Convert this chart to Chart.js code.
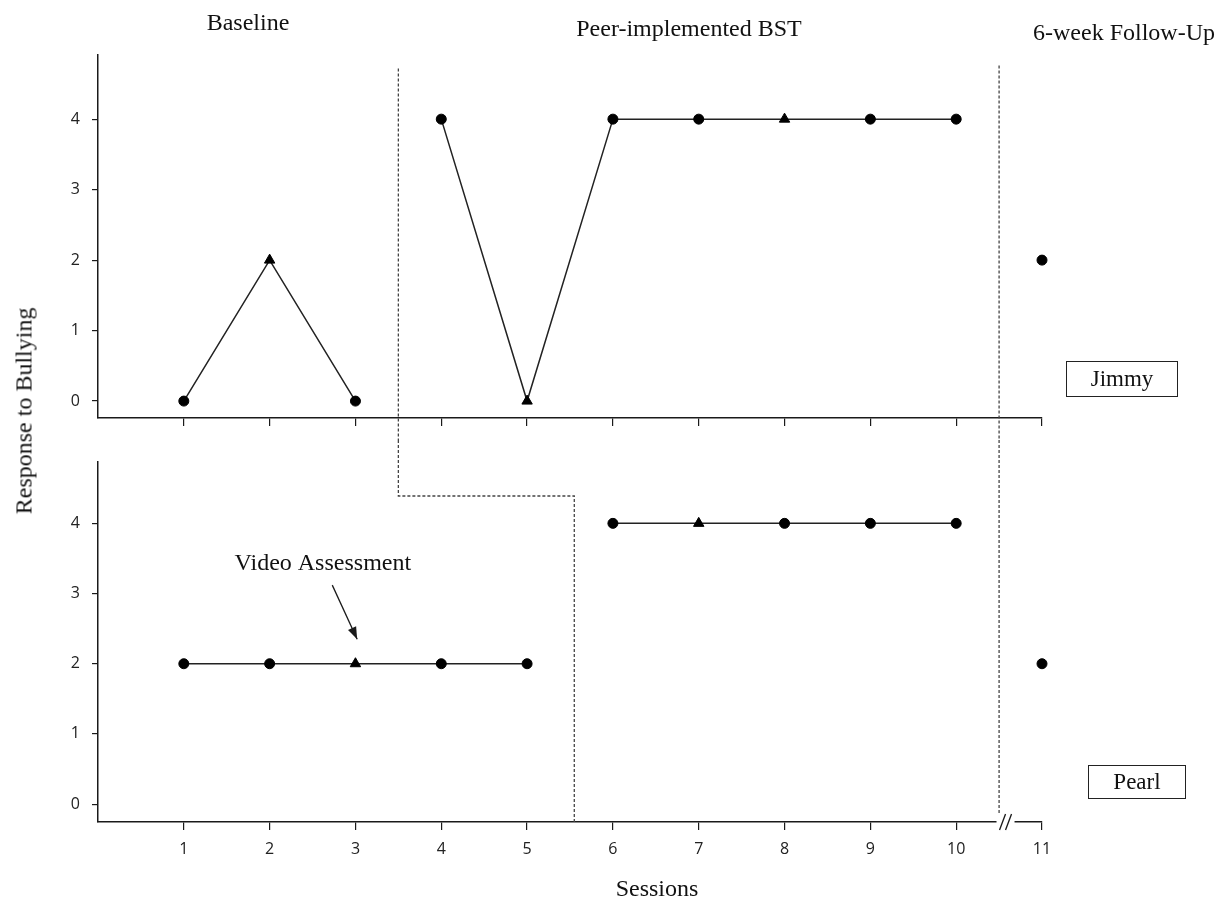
<!DOCTYPE html>
<html>
<head>
<meta charset="utf-8">
<script src="https://cdn.jsdelivr.net/npm/chart.js@4.4.1/dist/chart.umd.min.js"></script>
<style>
  body { margin: 0; background: #fff; }
  .page { position: relative; width: 1232px; height: 903px; }
  .panel { position: absolute; left: 0; width: 1232px; }
  .top_panel { top: 0; height: 440px; }
  .bottom_panel { top: 440px; height: 463px; }
  .label {
    position: absolute;
    font-family: "Liberation Serif", "Times New Roman", serif;
    font-size: 24px;
    color: #111;
    white-space: nowrap;
    transform: translate(-50%, -50%);
  }
  .name_box {
    position: absolute;
    border: 1.5px solid #222;
    font-family: "Liberation Serif", "Times New Roman", serif;
    font-size: 23px;
    color: #111;
    display: flex;
    align-items: center;
    justify-content: center;
    box-sizing: border-box;
  }
  .y_title {
    position: absolute;
    left: 24px;
    top: 411px;
    font-family: "Liberation Serif", "Times New Roman", serif;
    font-size: 24px;
    color: #111;
    white-space: nowrap;
    transform: translate(-50%, -50%) rotate(-90deg);
  }
</style>
</head>
<body>
<div class="page">
  <div class="panel top_panel"><canvas id="jimmy_chart" width="1232" height="440"></canvas></div>
  <div class="panel bottom_panel"><canvas id="pearl_chart" width="1232" height="463"></canvas></div>

  <div class="label" style="left:248px; top:22px;">Baseline</div>
  <div class="label" style="left:689px; top:28px;">Peer-implemented BST</div>
  <div class="label" style="left:1124px; top:32px;">6-week Follow-Up</div>
  <div class="label" style="left:657px; top:888px;">Sessions</div>
  <div class="y_title">Response to Bullying</div>
  <div class="name_box" style="left:1066px; top:361px; width:112px; height:36px;">Jimmy</div>
  <div class="name_box" style="left:1088px; top:765px; width:98px; height:34px;">Pearl</div>
</div>

<script>
const sessions = [1, 2, 3, 4, 5, 6, 7, 8, 9, 10, 11];
const jimmyScores = [0, 2, 0, 4, 0, 4, 4, 4, 4, 4, 2];
const jimmyMarkers = ["circle", "triangle", "circle", "circle", "triangle", "circle", "circle", "triangle", "circle", "circle", "circle"];
const pearlScores = [2, 2, 2, 2, 2, 4, 4, 4, 4, 4, 2];
const pearlMarkers = ["circle", "circle", "triangle", "circle", "circle", "circle", "triangle", "circle", "circle", "circle", "circle"];
const yTicks = [0, 1, 2, 3, 4];

// last session of each phase
const jimmyLastBaseline = 3;
const pearlLastBaseline = 5;
const lastIntervention = 10;

// phase change lines (session units)
const jimmyPhaseLine = 3.5;
const pearlPhaseLine = 5.55;
const followUpLine = 10.5;

const INK = "#1a1a1a";
const tickFont = { family: "'Open Sans', 'Liberation Sans', sans-serif", size: 16 };

const phaseData = (scores, markers, from, to) => {
  const points = [];
  const styles = [];
  sessions.forEach((s, i) => {
    if (s >= from && s <= to) {
      points.push({ x: s, y: scores[i] });
      styles.push(markers[i]);
    }
  });
  return { points, styles };
};

const buildDatasets = (scores, markers, lastBaseline) => {
  const phases = [
    [1, lastBaseline, true],
    [lastBaseline + 1, lastIntervention, true],
    [lastIntervention + 1, 11, false],
  ];
  return phases.map(([from, to, joined]) => {
    const d = phaseData(scores, markers, from, to);
    return {
      data: d.points,
      pointStyle: d.styles,
      pointRadius: d.styles.map((s) => (s === "triangle" ? 6 : 5)),
      pointBackgroundColor: "#000",
      pointBorderColor: "#000",
      pointBorderWidth: 1,
      borderColor: "#222",
      borderWidth: 1.5,
      showLine: joined,
      clip: false,
    };
  });
};

const toPx = (chart, x, y) => [
  chart.scales.x.getPixelForValue(x),
  typeof y === "number" ? chart.scales.y.getPixelForValue(y) : y === "top" ? 0 : chart.height,
];

const phaseLinesPlugin = {
  id: "phaseLines",
  afterDatasetsDraw(chart, args, opts) {
    const ctx = chart.ctx;
    ctx.save();
    ctx.strokeStyle = "#444";
    ctx.lineWidth = 1.3;
    ctx.setLineDash([3, 2]);
    (opts.paths || []).forEach((path) => {
      ctx.beginPath();
      path.forEach(([x, y], i) => {
        const [px, py] = toPx(chart, x, y);
        if (i === 0) ctx.moveTo(px, py);
        else ctx.lineTo(px, py);
      });
      ctx.stroke();
    });
    ctx.restore();
  },
  afterDraw(chart, args, opts) {
    const ctx = chart.ctx;
    if (opts.axisBreak) {
      const yAxis = chart.scales.x.top;
      const x0 = chart.scales.x.getPixelForValue(opts.axisBreak[0]);
      const x1 = chart.scales.x.getPixelForValue(opts.axisBreak[1]);
      ctx.save();
      ctx.fillStyle = "#fff";
      ctx.fillRect(x0, yAxis - 2, x1 - x0, 4);
      ctx.strokeStyle = INK;
      ctx.lineWidth = 1.3;
      const mid = (x0 + x1) / 2;
      [-3, 3].forEach((off) => {
        ctx.beginPath();
        ctx.moveTo(mid + off - 3, yAxis + 8);
        ctx.lineTo(mid + off + 3, yAxis - 8);
        ctx.stroke();
      });
      ctx.restore();
    }
    if (opts.note) {
      const n = opts.note;
      const [tx, ty] = toPx(chart, n.textAt[0], n.textAt[1]);
      const [sx, sy] = toPx(chart, n.from[0], n.from[1]);
      const [ex, ey] = toPx(chart, n.to[0], n.to[1]);
      ctx.save();
      ctx.font = "24px 'Liberation Serif', 'Times New Roman', serif";
      ctx.fillStyle = "#111";
      ctx.textAlign = "center";
      ctx.textBaseline = "middle";
      ctx.fillText(n.text, tx, ty);
      ctx.strokeStyle = INK;
      ctx.fillStyle = INK;
      ctx.lineWidth = 1.3;
      ctx.beginPath();
      ctx.moveTo(sx, sy);
      ctx.lineTo(ex, ey);
      ctx.stroke();
      const ang = Math.atan2(ey - sy, ex - sx);
      ctx.beginPath();
      ctx.moveTo(ex, ey);
      ctx.lineTo(ex - 13 * Math.cos(ang - 0.35), ey - 13 * Math.sin(ang - 0.35));
      ctx.lineTo(ex - 13 * Math.cos(ang + 0.35), ey - 13 * Math.sin(ang + 0.35));
      ctx.closePath();
      ctx.fill();
      ctx.restore();
    }
  },
};

const chartConfig = (datasets, opts) => ({
  type: "scatter",
  data: { datasets },
  plugins: [phaseLinesPlugin],
  options: {
    responsive: false,
    animation: false,
    layout: { padding: { left: 0, right: 190, top: opts.top, bottom: 0 } },
    plugins: {
      legend: { display: false },
      tooltip: { enabled: false },
      phaseLines: opts.phaseLines,
    },
    scales: {
      x: {
        type: "linear",
        min: 0,
        max: 11,
        afterBuildTicks: (scale) => {
          scale.ticks = sessions.map((v) => ({ value: v }));
        },
        afterFit: (scale) => {
          scale.height = opts.xHeight;
        },
        grid: { drawOnChartArea: false, tickLength: 8, color: INK, lineWidth: 1.2 },
        border: { color: INK, width: 1.5 },
        ticks: { display: opts.showXLabels, color: "#222", font: tickFont, padding: 10 },
      },
      y: {
        min: opts.yMin,
        max: opts.yMax,
        afterBuildTicks: (scale) => {
          scale.ticks = yTicks.map((v) => ({ value: v }));
        },
        afterFit: (scale) => {
          scale.width = 98;
        },
        grid: { drawOnChartArea: false, tickLength: 6, color: INK, lineWidth: 1.2 },
        border: { color: INK, width: 1.5 },
        ticks: { color: "#222", font: tickFont, padding: 12 },
      },
    },
  },
});

new Chart(
  document.getElementById("jimmy_chart").getContext("2d"),
  chartConfig(buildDatasets(jimmyScores, jimmyMarkers, jimmyLastBaseline), {
    top: 55,
    xHeight: 22,
    showXLabels: false,
    yMin: -0.24,
    yMax: 4.91,
    phaseLines: {
      paths: [
        [[jimmyPhaseLine, 4.72], [jimmyPhaseLine, "bottom"]],
        [[followUpLine, 4.76], [followUpLine, "bottom"]],
      ],
    },
  })
);

new Chart(
  document.getElementById("pearl_chart").getContext("2d"),
  chartConfig(buildDatasets(pearlScores, pearlMarkers, pearlLastBaseline), {
    top: 20,
    xHeight: 81,
    showXLabels: true,
    yMin: -0.255,
    yMax: 4.88,
    phaseLines: {
      paths: [
        [[jimmyPhaseLine, "top"], [jimmyPhaseLine, 4.39], [pearlPhaseLine, 4.39], [pearlPhaseLine, -0.255]],
        [[followUpLine, "top"], [followUpLine, -0.15]],
      ],
      axisBreak: [10.47, 10.68],
      note: { text: "Video Assessment", textAt: [2.62, 3.42], from: [2.73, 3.12], to: [3.02, 2.35] },
    },
  })
);
</script>
</body>
</html>
